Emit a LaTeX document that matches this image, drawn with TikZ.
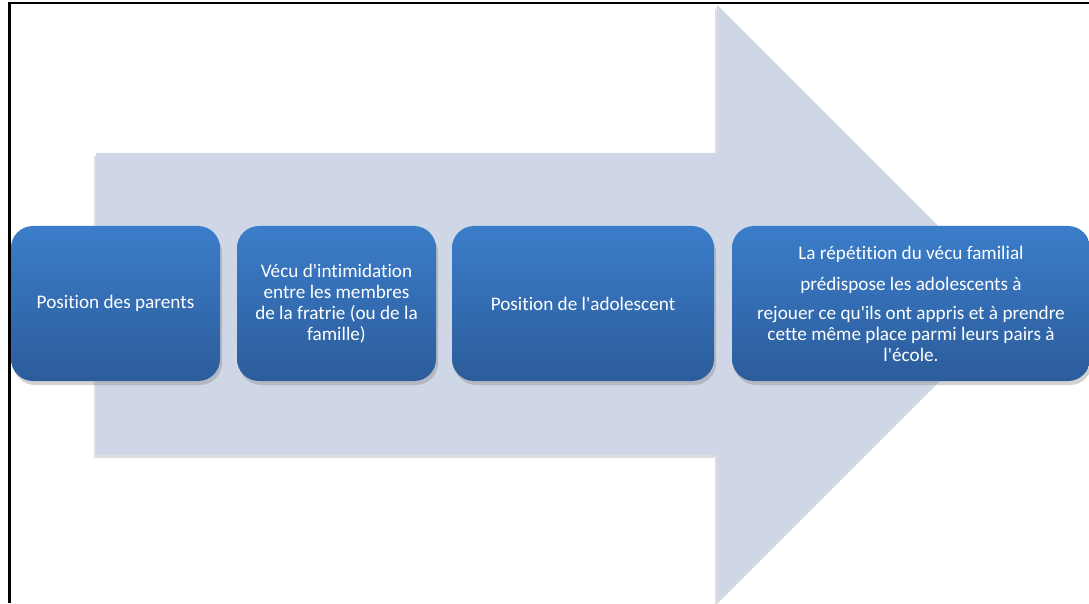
\documentclass[tikz,border=0pt]{standalone}
\usepackage{fontspec}
\setmainfont{Carlito}[Ligatures={TeXOff,CommonOff}]
\usetikzlibrary{shadows}
\definecolor{bandgray}{RGB}{207,215,230}
\definecolor{boxtop}{RGB}{59,125,202}
\definecolor{boxbot}{RGB}{44,92,154}
\begin{document}
\begin{tikzpicture}[x=1pt,y=1pt,
  band/.style={fill=bandgray,draw=none,drop shadow={shadow xshift=-2pt,shadow yshift=-3pt,opacity=0.25}},
  stage/.style={rounded corners=22pt,top color=boxtop,bottom color=boxbot,draw=none,
    text=white,align=center,inner sep=0pt,minimum height=155pt,
    font=\fontsize{19.2}{21}\selectfont,
    drop shadow={shadow xshift=2pt,shadow yshift=-4pt,opacity=0.35}},
  frame/.style={draw=black}
]
  \useasboundingbox (0,0) rectangle (1089,603);
  \fill[white] (0,0) rectangle (1089,603);
  % the big arrow behind
  \path[band] (96,148) -- (96,450) -- (717,450) -- (717,598)
    -- (1016,299) -- (717,0) -- (717,148) -- cycle;
  % the four stages
  \node[stage,minimum width=209pt] (parents) at (115.5,299.5) {Position des parents};
  \node[stage,minimum width=199pt] (fratrie) at (336.5,299.5)
    {Vécu d'intimidation\\entre les membres\\de la fratrie (ou de la\\famille)};
  \node[stage,minimum width=262pt] (ado) at (583,299.5) {Position de l'adolescent};
  \node[stage,minimum width=358pt] (repetition) at (911,299.5)
    {La répétition du vécu familial\\[10pt]prédispose les adolescents à\\[8pt]rejouer ce qu'ils ont appris et à prendre\\cette même place parmi leurs pairs à\\l'école.};
  % page frame
  \draw[frame,line width=3pt] (9,0) -- (9,599.5);
  \draw[frame,line width=2pt] (7.5,599.5) -- (1089,599.5);
\end{tikzpicture}
\end{document}
